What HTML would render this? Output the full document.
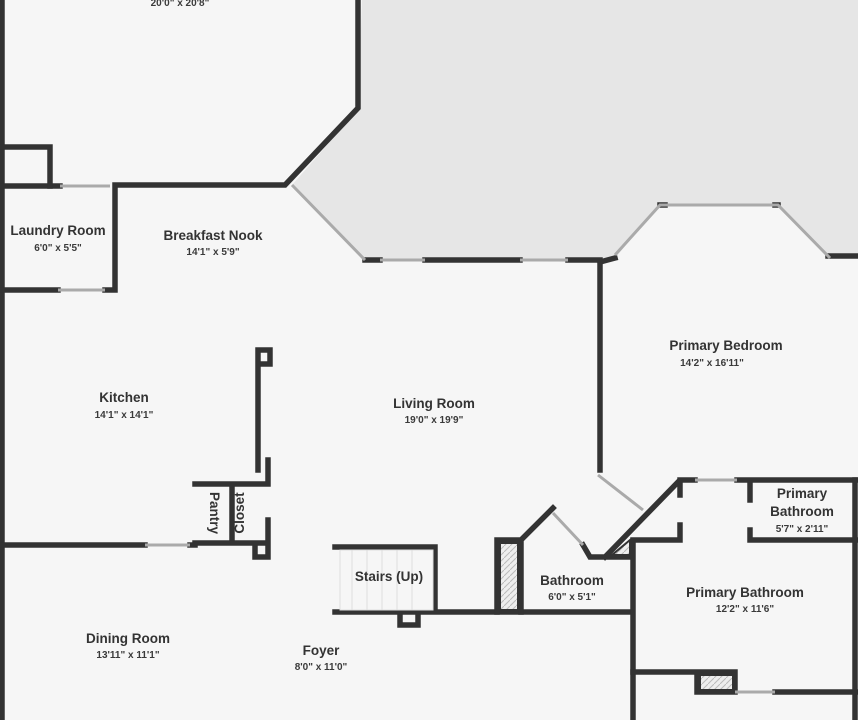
<!DOCTYPE html>
<html><head><style>body{margin:0;background:#f6f6f6}svg{display:block}
text{font-family:"Liberation Sans",sans-serif;fill:#333;text-anchor:middle}
.l{font-size:13.5px;font-weight:bold}.d{font-size:10px;font-weight:bold;fill:#3a3a3a}</style></head>
<body><svg width="858" height="720" viewBox="0 0 858 720" xmlns="http://www.w3.org/2000/svg">
<defs><pattern id="h" width="6" height="6" patternUnits="userSpaceOnUse"><rect width="6" height="6" fill="#eee"/><path d="M0 6L6 0" stroke="#bbb" stroke-width="1"/></pattern></defs>
<rect width="858" height="720" fill="#f6f6f6"/>
<polygon points="362,0 858,0 858,255 830,258 778,205 660,205 615,258 600,262 365,260 292,185 358,110" fill="#e6e6e6"/>
<g stroke="#333" stroke-width="5.5" fill="none" stroke-linecap="square">
<path d="M2 0V720"/>
<path d="M358 0V108L285 185H115V290H105M58 290H2M60 186H2"/>
<path d="M2 147H50V186"/>
<path d="M365 260H380M425 260H520M568 260H600V470"/>
<path d="M600 262L615 258M660 205L665 205M775 205L778 205M828 256L858 256"/>
<path d="M258 470V350H270V364H260"/>
<path d="M195 484H268V460M268 520V557H255V545M195 543H268M232 484V543M195 545H190M145 545H2"/>
<path d="M335 547H435V612H335M435 612H632M400 612V625H418V612"/>
<path d="M497 612V540H521V612M521 540L553 508M583 545L590 557H632M605 557L680 480H695M737 480H858M680 480V495M680 525V540H633M633 540V720M750 480V500M750 530V540H858"/>
<path d="M633 672H697V692H735M775 692H858M697 672H735V692"/>
<path d="M855 480V720"/>
</g>
<g stroke="#aaa" stroke-width="3" fill="none">
<path d="M292 185L365 260"/><path d="M380 260H425M520 260H568"/>
<path d="M615 255L660 205H778L830 258"/>
<path d="M598 475L643 510M553 513L583 545M105 290H58M110 186H60M190 545H145M695 480H737M735 692H775"/>
</g>
<g fill="url(#h)" stroke="#333" stroke-width="2"><rect x="500" y="543" width="18" height="67"/><rect x="700" y="675" width="33" height="15"/><polygon points="612,555 630,555 630,540"/></g>
<g fill="#f6f6f6" stroke="#ddd" stroke-width="1"><rect x="340" y="550" width="93" height="60"/>
<path d="M352 550V610M367 550V610M382 550V610M397 550V610M412 550V610"/></g>
<text class="d" x="180" y="6">20'0" x 20'8"</text>
<text class="l" x="58" y="235">Laundry Room</text><text class="d" x="58" y="251">6'0" x 5'5"</text>
<text class="l" x="213" y="240">Breakfast Nook</text><text class="d" x="213" y="255">14'1" x 5'9"</text>
<text class="l" x="124" y="402">Kitchen</text><text class="d" x="124" y="418">14'1" x 14'1"</text>
<text class="l" x="434" y="408">Living Room</text><text class="d" x="434" y="423">19'0" x 19'9"</text>
<text class="l" x="726" y="350">Primary Bedroom</text><text class="d" x="712" y="366">14'2" x 16'11"</text>
<text class="l" x="802" y="498">Primary</text><text class="l" x="802" y="516">Bathroom</text><text class="d" x="802" y="532">5'7" x 2'11"</text>
<text class="l" x="745" y="597">Primary Bathroom</text><text class="d" x="745" y="612">12'2" x 11'6"</text>
<text class="l" x="572" y="585">Bathroom</text><text class="d" x="572" y="600">6'0" x 5'1"</text>
<text class="l" x="389" y="581">Stairs (Up)</text>
<text class="l" x="128" y="643">Dining Room</text><text class="d" x="128" y="658">13'11" x 11'1"</text>
<text class="l" x="321" y="655">Foyer</text><text class="d" x="321" y="670">8'0" x 11'0"</text>
<text class="l" transform="translate(210,513) rotate(90)">Pantry</text>
<text class="l" transform="translate(244,513) rotate(-90)">Closet</text>
</svg></body></html>
